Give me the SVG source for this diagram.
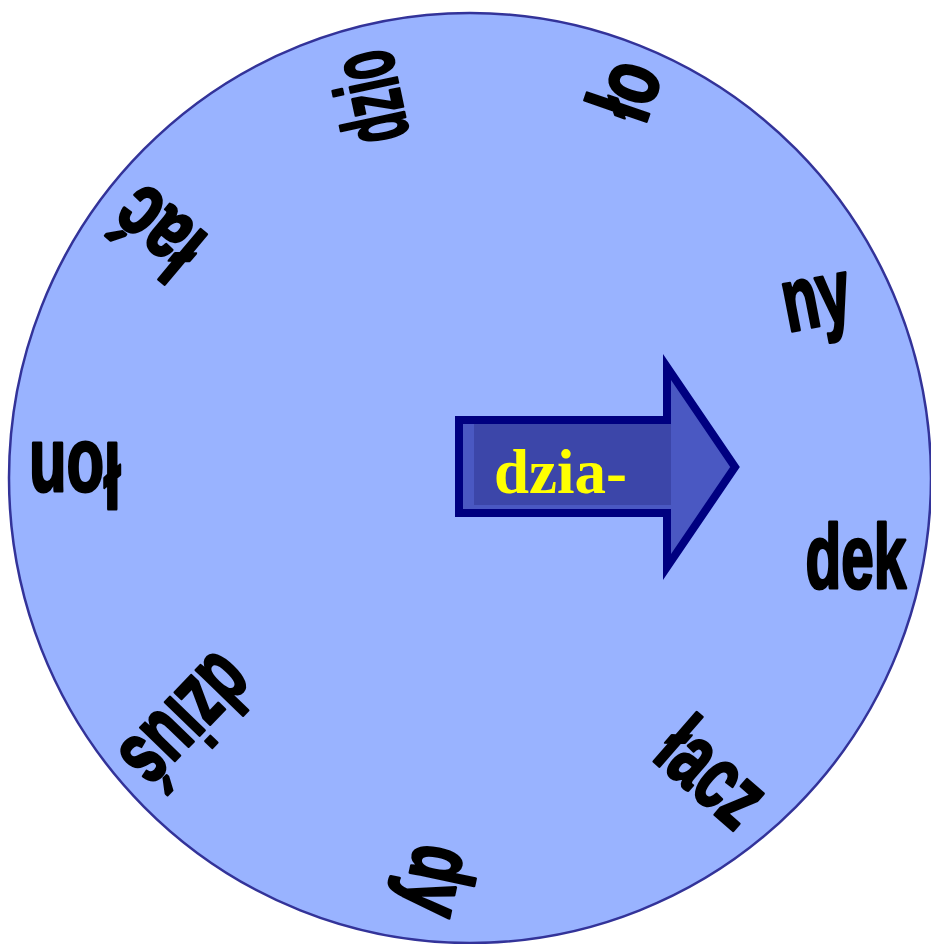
<svg xmlns="http://www.w3.org/2000/svg" width="931" height="944" viewBox="0 0 931 944">
<style>
.lbl{font-family:"Liberation Sans",Arial,sans-serif;font-weight:bold;font-size:90px;fill:#000;stroke:#000;stroke-width:3;stroke-linejoin:round;text-anchor:middle}
</style>
<rect width="931" height="944" fill="#fff"/>
<g id="wheel">
<ellipse cx="470" cy="478" rx="461" ry="465" fill="#99b3ff" stroke="#333399" stroke-width="2.5"/>
</g>
<g id="labels">
<g id="n-ny"><text class="lbl" y="23" transform="translate(817,303) rotate(-11) scale(0.65,1)">ny</text></g>
<g id="n-dek"><text class="lbl" y="23" transform="translate(856,565) rotate(0) scale(0.65,1)">dek</text></g>
<g id="n-lacz"><text class="lbl" y="23" transform="translate(708,778) rotate(41) scale(0.66,1)">łacz</text></g>
<g id="n-dy"><text class="lbl" y="23" transform="translate(432,880) rotate(102) scale(0.66,1)">dy</text></g>
<g id="n-dzius"><text class="lbl" y="23" transform="translate(183,717) rotate(134) scale(0.64,1)">dziuś</text></g>
<g id="n-lon"><text class="lbl" y="23" transform="translate(75,466) rotate(180) scale(0.68,1)">łon</text></g>
<g id="n-lac"><text class="lbl" y="23" transform="translate(162,227) rotate(220) scale(0.7,1)">łać</text></g>
<g id="n-dzio"><text class="lbl" y="23" transform="translate(377,96) rotate(-102) scale(0.51,1)">dzio</text></g>
<g id="n-lo"><text class="lbl" y="23" transform="translate(632,92) rotate(-71) scale(0.7,1)">ło</text></g>
</g>
<g id="arrow">
<path d="M459,420 H667 V367 L735,467 L667,567 V513 H459 Z" fill="#4a58c2" stroke="#000080" stroke-width="8" stroke-linejoin="miter" stroke-miterlimit="10"/>
<rect x="474" y="424" width="197" height="81" fill="#3c46a9"/>
<text x="494" y="493" font-family="Liberation Serif,'Times New Roman',serif" font-weight="bold" font-size="63" fill="#ffff00">dzia-</text>
</g>
</svg>
